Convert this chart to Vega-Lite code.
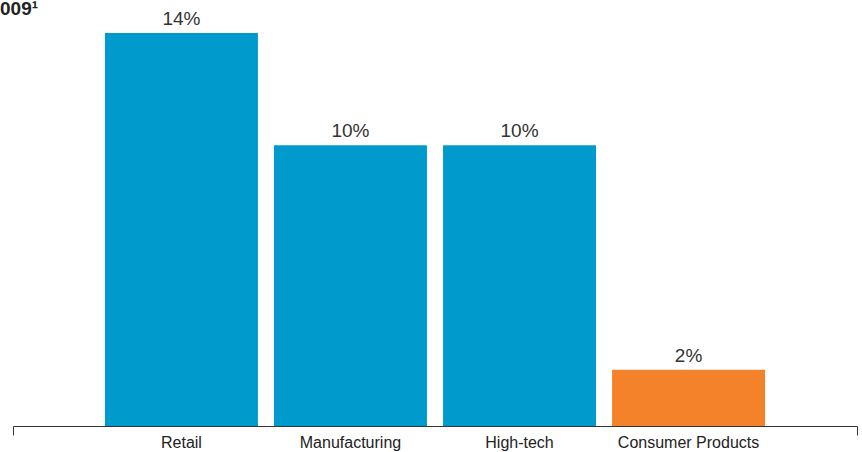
{
  "$schema": "https://vega.github.io/schema/vega-lite/v6.json",
  "width": 844,
  "height": 421,
  "autosize": {"type": "none"},
  "padding": {"left": 13, "top": 5, "right": 5, "bottom": 26},
  "background": "white",
  "config": {"view": {"stroke": null}, "font": "Liberation Sans"},
  "title": {"text": "009¹", "anchor": "start", "frame": "group", "dx": -13, "offset": 0, "dy": 29, "baseline": "alphabetic", "fontSize": 19, "fontWeight": "bold", "color": "#222222"},
  "datasets": {
    "bars": [
      {"category": "Retail", "value": 0.14, "group": "other"},
      {"category": "Manufacturing", "value": 0.10, "group": "other"},
      {"category": "High-tech", "value": 0.10, "group": "other"},
      {"category": "Consumer Products", "value": 0.02, "group": "highlight"}
    ],
    "ends": [{"e": 0}, {"e": 1}]
  },
  "layer": [
    {
      "data": {"name": "bars"},
      "encoding": {
        "x": {"field": "category", "type": "nominal", "sort": null,
          "scale": {"paddingInner": 0.095, "paddingOuter": 0.544},
          "axis": {"title": null, "labelAngle": 0, "labelFontSize": 16, "labelColor": "#222222", "labelPadding": 8, "ticks": false, "domainColor": "#333333", "domainWidth": 1}},
        "y": {"field": "value", "type": "quantitative", "scale": {"domain": [0, 0.15]}, "axis": null}
      },
      "layer": [
        {"mark": {"type": "bar"},
         "encoding": {"color": {"field": "group", "type": "nominal", "scale": {"domain": ["other", "highlight"], "range": ["#009bcc", "#f4822a"]}, "legend": null}}},
        {"mark": {"type": "text", "baseline": "alphabetic", "dy": -8, "fontSize": 19, "color": "#333333"},
         "encoding": {"text": {"field": "value", "type": "quantitative", "format": ".0%"}}}
      ]
    },
    {
      "data": {"name": "ends"},
      "mark": {"type": "point", "opacity": 0},
      "encoding": {
        "x": {"field": "e", "type": "quantitative", "scale": {"domain": [0, 1], "nice": false, "zero": false},
          "axis": {"orient": "bottom", "values": [0, 1], "labels": false, "domain": false, "grid": false, "title": null, "ticks": true, "tickSize": 9, "tickColor": "#333333", "tickWidth": 1}}
      }
    }
  ],
  "resolve": {"scale": {"x": "independent"}, "axis": {"x": "independent"}}
}
